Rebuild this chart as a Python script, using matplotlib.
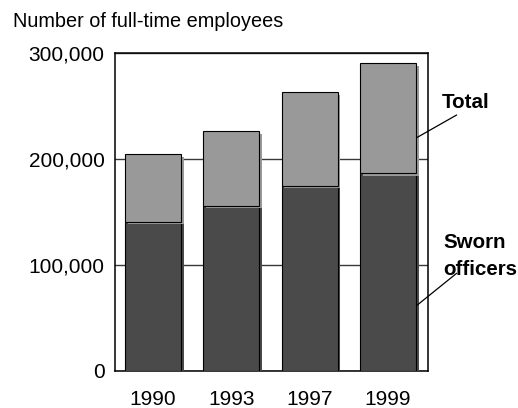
import matplotlib
matplotlib.use("Agg")
import matplotlib.pyplot as plt
import matplotlib.patheffects as pe

years = ["1990", "1993", "1997", "1999"]
total = [204500, 226000, 263400, 290700]
sworn = [140800, 155800, 174700, 186500]
yticks = [0, 100000, 200000, 300000]
ytick_labels = ["0", "100,000", "200,000", "300,000"]

LIGHT = "#999999"
DARK = "#4a4a4a"

plt.rcParams["font.family"] = ["Liberation Sans", "DejaVu Sans"]

fig = plt.figure(figsize=(5.18, 4.08), dpi=100)
ax = fig.add_axes([0.222, 0.0919, 0.605, 0.778])

x = list(range(len(years)))
w = 0.715

def shadow(color):
    return [pe.SimplePatchShadow(offset=(2, -2), shadow_rgbFace=color, alpha=1.0),
            pe.Normal()]

dark_bars = ax.bar(x, sworn, width=w, color=DARK, edgecolor="black", linewidth=0.8, zorder=3)
for b in dark_bars:
    b.set_path_effects(shadow(DARK))
upper = [t - s for t, s in zip(total, sworn)]
light_bars = ax.bar(x, upper, bottom=sworn, width=w, color=LIGHT, edgecolor="black",
                    linewidth=0.8, zorder=4)
for b in light_bars:
    b.set_path_effects(shadow(LIGHT))

ax.set_xlim(-0.485, 3.515)
ax.set_ylim(0, 300000)
ax.set_yticks(yticks)
ax.set_yticklabels(ytick_labels, fontsize=15)
ax.set_xticks(x)
ax.set_xticklabels(years, fontsize=15)
ax.tick_params(axis="both", length=0)
ax.tick_params(axis="y", pad=7.5)
ax.tick_params(axis="x", pad=14)
ax.yaxis.grid(True, color="#383838", linewidth=1.0, zorder=1)
ax.set_axisbelow(True)
for s in ax.spines.values():
    s.set_color("black")
    s.set_linewidth(1.1)

fig.text(13 / 518, 1 - 27.3 / 408, "Number of full-time employees", fontsize=14.3,
         ha="left", va="baseline")

# annotations
ax.annotate("", xy=(3.374, 220400), xytext=(3.876, 241500),
            arrowprops=dict(arrowstyle="-", color="black", lw=0.9, shrinkA=0, shrinkB=0),
            annotation_clip=False, zorder=6)
ax.annotate("", xy=(3.374, 61900), xytext=(3.876, 91900),
            arrowprops=dict(arrowstyle="-", color="black", lw=0.9, shrinkA=0, shrinkB=0),
            annotation_clip=False, zorder=6)
fig.text(441.5 / 518, 1 - 108 / 408, "Total", fontsize=14.8, fontweight="bold",
         ha="left", va="baseline")
fig.text(443 / 518, 1 - 248.3 / 408, "Sworn", fontsize=14.8, fontweight="bold",
         ha="left", va="baseline")
fig.text(443 / 518, 1 - 275 / 408, "officers", fontsize=14.8, fontweight="bold",
         ha="left", va="baseline")

fig.savefig("out.png", dpi=100)
